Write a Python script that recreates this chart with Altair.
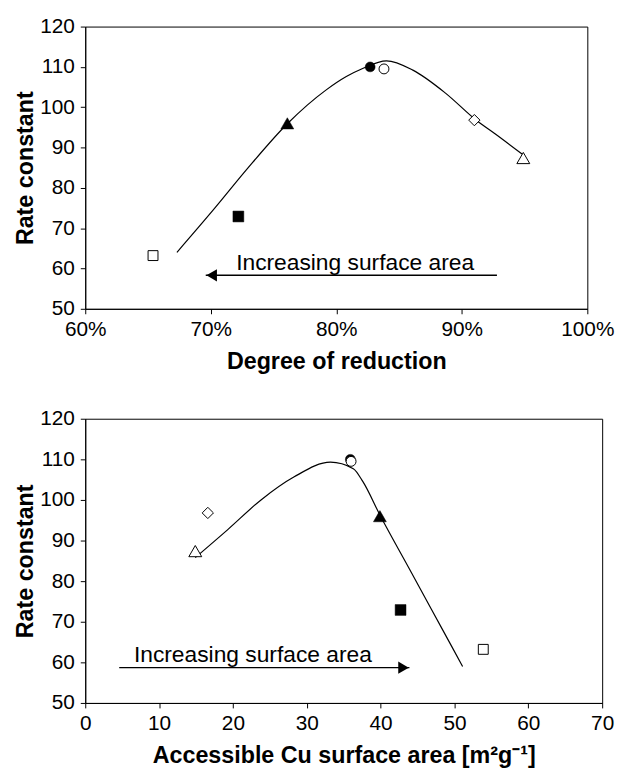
import altair as alt
import pandas as pd

# ---- data ----
samples = ["A", "B", "C", "D", "E", "F", "G"]
shapes = ["square", "square", "triangle-up", "circle", "circle", "diamond", "triangle-up"]
filled = [False, True, True, True, False, False, False]
marker_sizes = [100, 120, 170, 100, 100, 130, 170]
degree_of_reduction = [0.654, 0.722, 0.761, 0.827, 0.838, 0.910, 0.949]
cu_surface_area = [53.9, 42.7, 39.9, 35.9, 36.0, 16.6, 14.9]
rate_constant = [63.2, 72.9, 96.0, 110.0, 109.5, 96.8, 87.4]

# trend curves
curve_top_x = [0.673, 0.703, 0.729, 0.761, 0.792, 0.808, 0.821, 0.840, 0.861, 0.887, 0.911, 0.927, 0.948]
curve_top_y = [64.0, 74.9, 84.7, 95.9, 104.3, 107.6, 109.6, 111.5, 109.2, 103.5, 96.9, 93.3, 88.4]
curve_bot_x = [14.9, 19.3, 23.8, 28.3, 33.2, 36.3, 37.6, 39.9, 43.9, 48.4, 51.1]
curve_bot_y = [85.8, 92.7, 100.0, 105.7, 109.3, 107.7, 104.5, 96.3, 83.0, 68.0, 59.0]

# annotation arrows and labels
arrow_top = {"x_start": 0.928, "x_end": 0.696, "y": 58.3}
arrow_bot = {"x_start": 4.6, "x_end": 43.9, "y": 58.7}
label_text = "Increasing surface area"
label_top = {"x": 0.815, "y": 59.7}
label_bot = {"x": 22.7, "y": 60.2}

FONT = "Liberation Sans"

pts = pd.DataFrame({
    "sample": samples, "shape": shapes, "filled": filled, "size": marker_sizes,
    "dor": degree_of_reduction, "area": cu_surface_area, "rate": rate_constant,
})


def panel(xfield, xscale, xaxis, curve_x, curve_y, arrow, head_shape, head_dx, label, w, h):
    yscale = alt.Scale(domain=[50, 120], nice=False, zero=False)
    yaxis = alt.Axis(title="Rate constant", values=list(range(50, 121, 10)),
                     labelPadding=6, titlePadding=2, labelFlush=False)
    base = alt.Chart(pts)
    filled_pts = base.transform_filter("datum.filled").mark_point(
        filled=True, fill="black", stroke="black", strokeWidth=0.5, opacity=1
    ).encode(
        x=alt.X(f"{xfield}:Q", scale=xscale, axis=xaxis),
        y=alt.Y("rate:Q", scale=yscale, axis=yaxis),
        shape=alt.Shape("shape:N", scale=None),
        size=alt.Size("size:Q", scale=None),
    )
    open_pts = base.transform_filter("!datum.filled").mark_point(
        filled=True, fill="white", stroke="black", strokeWidth=1, opacity=1
    ).encode(
        x=alt.X(f"{xfield}:Q"),
        y=alt.Y("rate:Q"),
        shape=alt.Shape("shape:N", scale=None),
        size=alt.Size("size:Q", scale=None),
    )
    cdf = pd.DataFrame({xfield: curve_x, "rate": curve_y})
    curve = alt.Chart(cdf).mark_line(color="black", strokeWidth=1.2, interpolate="monotone").encode(
        x=alt.X(f"{xfield}:Q"), y=alt.Y("rate:Q")
    )
    adf = pd.DataFrame({"x1": [arrow["x_start"]], "x2": [arrow["x_end"]], "y": [arrow["y"]]})
    rule = alt.Chart(adf).mark_rule(color="black", strokeWidth=1.5).encode(
        x=alt.X("x1:Q"), x2="x2:Q", y=alt.Y("y:Q")
    )
    head = alt.Chart(adf).mark_point(
        shape=head_shape, filled=True, color="black", size=150, opacity=1, xOffset=head_dx
    ).encode(x=alt.X("x2:Q"), y=alt.Y("y:Q"))
    tdf = pd.DataFrame({"x": [label["x"]], "y": [label["y"]], "t": [label_text]})
    text = alt.Chart(tdf).mark_text(
        font=FONT, fontSize=23, align="center", baseline="alphabetic", color="black"
    ).encode(x=alt.X("x:Q"), y=alt.Y("y:Q"), text="t:N")
    return alt.layer(curve, rule, head, text, filled_pts, open_pts).properties(width=w, height=h)


top = panel(
    "dor",
    alt.Scale(domain=[0.6, 1.0], nice=False, zero=False),
    alt.Axis(title="Degree of reduction", values=[0.6, 0.7, 0.8, 0.9, 1.0], format=".0%",
             labelPadding=5, titlePadding=10, labelFlush=False),
    curve_top_x, curve_top_y, arrow_top, "triangle-left", 6, label_top, 507, 285,
)
bottom = panel(
    "area",
    alt.Scale(domain=[0, 70], nice=False, zero=False),
    alt.Axis(title="Accessible Cu surface area [m²g⁻¹]", values=list(range(0, 71, 10)),
             labelPadding=5, titlePadding=10, labelFlush=False),
    curve_bot_x, curve_bot_y, arrow_bot, "triangle-right", -6, label_bot, 522, 287,
)

chart = alt.vconcat(top, bottom, spacing=34).resolve_scale(
    x="independent", y="independent"
).properties(
    padding={"left": 5, "top": 3, "right": 5, "bottom": 5}
).configure_axis(
    domainColor="black", tickColor="black", labelColor="black", titleColor="black",
    labelFont=FONT, titleFont=FONT, labelFontSize=21, titleFontSize=23.5,
    titleFontWeight="bold", grid=False, tickSize=5, domainWidth=1, tickWidth=1,
).configure_view(stroke="black", strokeWidth=1)

chart.save("out.html", embed_options={"renderer": "svg", "actions": False})
